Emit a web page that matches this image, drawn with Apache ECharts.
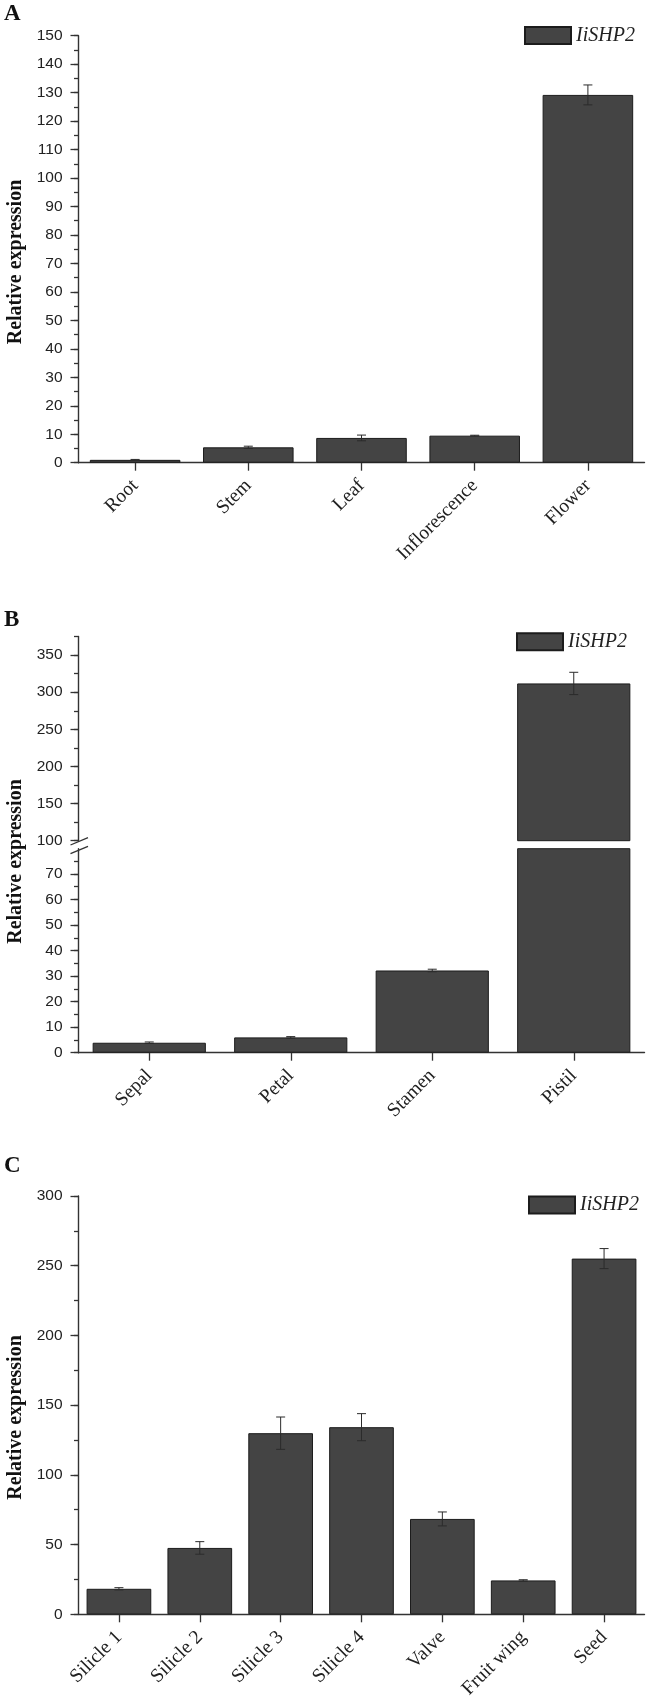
<!DOCTYPE html>
<html><head><meta charset="utf-8">
<script src="https://cdn.jsdelivr.net/npm/echarts@6/dist/echarts.min.js"></script>
<style>html,body{margin:0;padding:0;background:#fff}#c{width:650px;height:1707px}</style>
</head><body><div id="c"></div>
<script>
// ---------------- data ----------------
const seriesName = 'IiSHP2';
const yTitle = 'Relative expression';

const catsA = ['Root', 'Stem', 'Leaf', 'Inflorescence', 'Flower'];
const valsA = [1.0, 5.4, 8.7, 9.5, 129.2];
const errA  = [0.15, 0.4, 1.0, 0.15, 3.5];

const catsB = ['Sepal', 'Petal', 'Stamen', 'Pistil'];
const valsB = [3.9, 6.0, 32.2, 311.8];
const errB  = [0.3, 0.3, 0.5, 15.0];

const catsC = ['Silicle 1', 'Silicle 2', 'Silicle 3', 'Silicle 4', 'Valve', 'Fruit wing', 'Seed'];
const valsC = [18.3, 47.6, 129.9, 134.2, 68.4, 24.3, 255.1];
const errC  = [0.8, 4.5, 11.6, 9.7, 5.0, 0.5, 7.2];

// tick labels
const yLabelsA     = [0, 10, 20, 30, 40, 50, 60, 70, 80, 90, 100, 110, 120, 130, 140, 150];
const yLabelsBLow  = [0, 10, 20, 30, 40, 50, 60, 70];
const yLabelsBHigh = [100, 150, 200, 250, 300, 350];
const yLabelsC     = [0, 50, 100, 150, 200, 250, 300];

// axis extents / minor steps
const extA = [0, 150], minorA = 5;
const extBLow = [0, 79.9], minorBLow = 5;
const extBHigh = [100, 375], minorBHigh = 25;
const extC = [0, 300], minorC = 25;

// ---------------- layout / style ----------------
const L = 78.5, W = 566;
const grids = [
  {left: L, top: 35.7, width: W, height: 427},     // A
  {left: L, top: 636.5, width: W, height: 204.2},  // B upper
  {left: L, top: 848.7, width: W, height: 204},    // B lower
  {left: L, top: 1196, width: W, height: 418.3}    // C
];
const AX = '#333';
const SANS = 'Liberation Sans', SERIF = 'Liberation Serif';
const BAR_FILL = '#444444', BAR_BORDER = '#1c1c1c';

function minorValues(ext, step) {
  const out = [];
  for (let v = Math.ceil(ext[0] / step) * step; v <= ext[1] + 1e-9; v += step) out.push(+v.toFixed(6));
  return out;
}

function xAxisCfg(gi, cats, show) {
  return {
    type: 'category', gridIndex: gi, data: cats, show: show,
    axisLine: {show: true, lineStyle: {color: AX, width: 1.4}},
    axisTick: {show: true, alignWithLabel: true, length: 8, lineStyle: {color: AX, width: 1.3}},
    axisLabel: {interval: 0, rotate: 45, margin: 20, fontFamily: SERIF, fontSize: 19.5, color: '#222'},
    splitLine: {show: false}
  };
}
function yAxisMain(gi, ext, labels) {
  return {
    type: 'value', gridIndex: gi, min: ext[0], max: ext[1], position: 'left',
    axisLine: {show: true, lineStyle: {color: AX, width: 1.4}},
    axisTick: {show: true, length: 8, customValues: labels, lineStyle: {color: AX, width: 1.3}},
    axisLabel: {customValues: labels, margin: 16, fontFamily: SANS, fontSize: 15.5, color: '#222'},
    splitLine: {show: false}, minorTick: {show: false}
  };
}
function yAxisMinor(gi, ext, step) {
  return {
    type: 'value', gridIndex: gi, min: ext[0], max: ext[1], position: 'left', offset: 0,
    axisLine: {show: false},
    axisTick: {show: true, length: 4.5, customValues: minorValues(ext, step), lineStyle: {color: AX, width: 1.3}},
    axisLabel: {show: false}, splitLine: {show: false}
  };
}
function barSeries(xi, yi, vals) {
  return {
    name: seriesName, type: 'bar', xAxisIndex: xi, yAxisIndex: yi, data: vals,
    barCategoryGap: '20%', clip: true,
    itemStyle: {color: BAR_FILL, borderColor: BAR_BORDER, borderWidth: 1},
    emphasis: {disabled: true}
  };
}
function errSeries(xi, yi, vals, errs, ext) {
  const data = vals.map((v, i) => [i, v, errs[i]]).filter(d => d[1] >= ext[0] && d[1] <= ext[1]);
  return {
    type: 'custom', xAxisIndex: xi, yAxisIndex: yi, data: data, z: 10, silent: true,
    encode: {x: 0, y: 1},
    renderItem: function (params, api) {
      const x = api.value(0), v = api.value(1), e = api.value(2);
      const t = api.coord([x, v + e]), b = api.coord([x, v - e]);
      const hw = 4.5;
      const st = {stroke: '#2b2b2b', lineWidth: 1, fill: null};
      return {type: 'group', children: [
        {type: 'line', shape: {x1: t[0], y1: t[1], x2: b[0], y2: b[1]}, style: st},
        {type: 'line', shape: {x1: t[0] - hw, y1: t[1], x2: t[0] + hw, y2: t[1]}, style: st},
        {type: 'line', shape: {x1: b[0] - hw, y1: b[1], x2: b[0] + hw, y2: b[1]}, style: st}
      ]};
    }
  };
}
function legendCfg(left, top) {
  return {
    left: left, top: top, padding: 0, itemWidth: 46, itemHeight: 17, selectedMode: false,
    data: [{name: seriesName, icon: 'rect'}],
    textStyle: {fontFamily: SERIF, fontStyle: 'italic', fontSize: 20, color: '#222'}
  };
}
function panelTitle(txt, left, top) {
  return {text: txt, left: left, top: top, padding: 0,
    textStyle: {fontFamily: SERIF, fontWeight: 'bold', fontSize: 23, color: '#111'}};
}
function yTitleGraphic(cy) {
  return {type: 'text', x: 16, y: cy, rotation: Math.PI / 2, silent: true,
    style: {text: yTitle, font: 'bold 20px "Liberation Serif"', fill: '#111',
      align: 'center', verticalAlign: 'middle', textAlign: 'center', textVerticalAlign: 'middle'}};
}
function breakMark(y) {
  return {type: 'line', silent: true, shape: {x1: L - 8, y1: y + 3.7, x2: L + 9.5, y2: y - 3.7},
    style: {stroke: AX, lineWidth: 1.3}};
}

const yUpperBottom = grids[1].top + grids[1].height;
const yLowerTop = grids[2].top;

const option = {
  animation: false,
  backgroundColor: '#fff',
  title: [panelTitle('A', 4, 3), panelTitle('B', 4, 609), panelTitle('C', 4, 1155)],
  legend: [legendCfg(524, 25.5), legendCfg(516, 631.8), legendCfg(528, 1195)],
  grid: grids,
  xAxis: [xAxisCfg(0, catsA, true), xAxisCfg(1, catsB, false), xAxisCfg(2, catsB, true), xAxisCfg(3, catsC, true)],
  yAxis: [
    yAxisMain(0, extA, yLabelsA), yAxisMain(1, extBHigh, yLabelsBHigh),
    yAxisMain(2, extBLow, yLabelsBLow), yAxisMain(3, extC, yLabelsC),
    yAxisMinor(0, extA, minorA), yAxisMinor(1, extBHigh, minorBHigh),
    yAxisMinor(2, extBLow, minorBLow), yAxisMinor(3, extC, minorC)
  ],
  series: [
    barSeries(0, 0, valsA), errSeries(0, 0, valsA, errA, extA),
    barSeries(1, 1, valsB), errSeries(1, 1, valsB, errB, extBHigh),
    barSeries(2, 2, valsB), errSeries(2, 2, valsB, errB, extBLow),
    barSeries(3, 3, valsC), errSeries(3, 3, valsC, errC, extC)
  ],
  graphic: [
    yTitleGraphic(262), yTitleGraphic(861.5), yTitleGraphic(1417.5),
    breakMark(yUpperBottom + 0.6), breakMark(yLowerTop + 1.3)
  ]
};
const chart = echarts.init(document.getElementById('c'), null, {renderer: 'canvas'});
chart.setOption(option);
</script></body></html>
